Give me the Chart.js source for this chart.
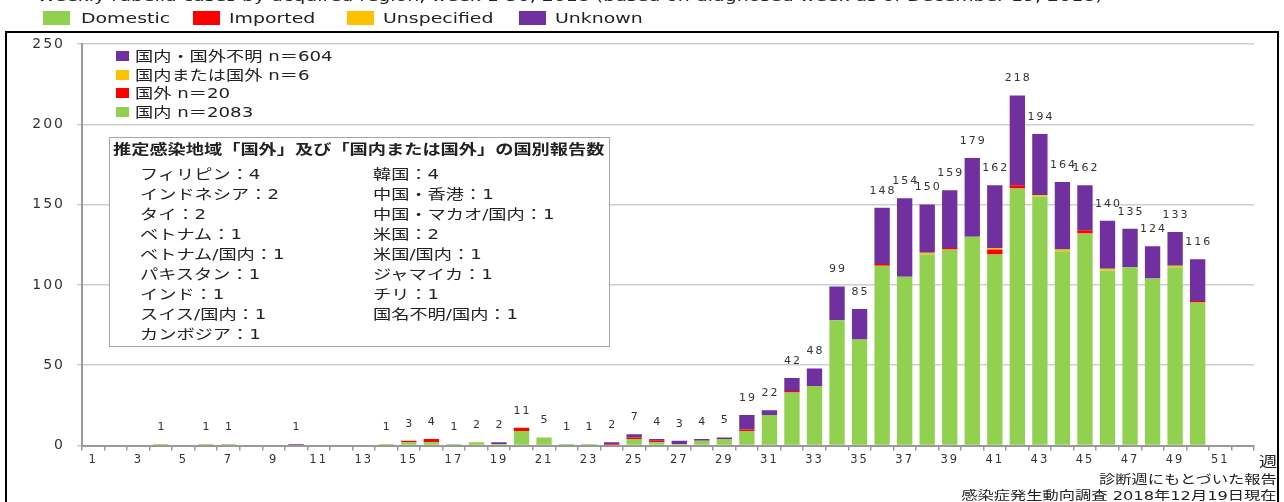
<!DOCTYPE html>
<html>
<head>
<meta charset="utf-8">
<title>Weekly rubella cases 2018</title>
<script src="https://cdn.jsdelivr.net/npm/chart.js@4.4.0/dist/chart.umd.min.js"></script>
<style>
    html, body { margin: 0; padding: 0; background: #fff; overflow: hidden; }
    #wrap { position: relative; width: 1284px; height: 502px; }
    #rubella-chart { position: absolute; left: 0; top: 0; }
    #frame { position: absolute; left: 5px; top: 31px; width: 1274px; height: 500px; border: 2px solid #000; box-sizing: border-box; }
    .txt {
        position: absolute; white-space: nowrap; color: #222;
        font-family: "DejaVu Sans", "Noto Sans CJK JP", sans-serif; font-size: 14px; line-height: 16px;
        transform-origin: left center; transform: scaleX(1.3);
    }
    .txt.right { transform-origin: right center; }
    .swatch { position: absolute; }
    #info-box { position: absolute; left: 109px; top: 137px; width: 501px; height: 210px; border: 1.5px solid #a6a6a6; box-sizing: border-box; background: #fff; }
</style>
</head>
<body>
<div id="wrap">
    <canvas id="rubella-chart" width="1284" height="502"></canvas>
    <div id="frame"></div>
    <div id="overlay"></div>
    <div id="info-box"></div>
</div>
<script>
(function() {
    'use strict';

    // Weeks on the x axis (1-52), only odd weeks get a tick label
    const weekLabels = ['1', '2', '3', '4', '5', '6', '7', '8', '9', '10', '11', '12', '13',
        '14', '15', '16', '17', '18', '19', '20', '21', '22', '23', '24', '25', '26',
        '27', '28', '29', '30', '31', '32', '33', '34', '35', '36', '37', '38', '39',
        '40', '41', '42', '43', '44', '45', '46', '47', '48', '49', '50', '51', '52'];
    const shownTicks = ['1', '3', '5', '7', '9', '11', '13', '15', '17', '19', '21', '23', '25',
        '27', '29', '31', '33', '35', '37', '39', '41', '43', '45', '47', '49', '51'];
    const yTicks = [0, 50, 100, 150, 200, 250];

    // Cases per week, weeks 1-50
    const domestic = [0, 0, 0, 1, 0, 1, 1, 0, 0, 0, 0, 0, 0, 1, 2, 2, 1, 2, 1, 9,
        5, 1, 1, 0, 4, 2, 1, 3, 4, 9, 19, 33, 37, 78, 66, 112, 105, 119, 122, 130,
        119, 160, 155, 121, 132, 109, 111, 104, 111, 89];
    const imported = [0, 0, 0, 0, 0, 0, 0, 0, 0, 0, 0, 0, 0, 0, 1, 2, 0, 0, 0, 2,
        0, 0, 0, 1, 1, 1, 0, 0, 0, 1, 0, 1, 0, 0, 0, 1, 0, 0, 1, 0,
        3, 2, 0, 0, 2, 0, 0, 0, 0, 1];
    const unspecified = [0, 0, 0, 0, 0, 0, 0, 0, 0, 0, 0, 0, 0, 0, 0, 0, 0, 0, 0, 0,
        0, 0, 0, 0, 0, 0, 0, 0, 0, 0, 0, 0, 0, 0, 0, 0, 0, 1, 0, 0,
        1, 0, 1, 1, 0, 1, 0, 0, 1, 0];
    const unknown = [0, 0, 0, 0, 0, 0, 0, 0, 0, 1, 0, 0, 0, 0, 0, 0, 0, 0, 1, 0,
        0, 0, 0, 1, 2, 1, 2, 1, 1, 9, 3, 8, 11, 21, 19, 35, 49, 30, 36, 49,
        39, 56, 38, 42, 28, 30, 24, 20, 21, 26];

    const seriesNames = ['Domestic', 'Imported', 'Unspecified', 'Unknown'];
    const seriesNamesJa = ['国内・国外不明 n＝604', '国内または国外 n＝6', '国外 n＝20', '国内 n＝2083'];
    const colors = { domestic: '#92D050', imported: '#FF0000', unspecified: '#FFC000', unknown: '#7030A0' };

    const countriesLeft = ['フィリピン：4', 'インドネシア：2', 'タイ：2', 'ベトナム：1', 'ベトナム/国内：1',
        'パキスタン：1', 'インド：1', 'スイス/国内：1', 'カンボジア：1'];
    const countriesRight = ['韓国：4', '中国・香港：1', '中国・マカオ/国内：1', '米国：2', '米国/国内：1',
        'ジャマイカ：1', 'チリ：1', '国名不明/国内：1'];

    window.RubellaChart = {
        chart: null,

        init: function() {
            this.drawOverlay();
            this.initChart();
        },

        addText: function(parent, text, x, y, opts) {
            opts = opts || {};
            const el = document.createElement('div');
            el.className = 'txt' + (opts.right ? ' right' : '');
            el.textContent = text;
            if (opts.right) {
                el.style.right = (1284 - x) + 'px';
            } else {
                el.style.left = x + 'px';
            }
            el.style.top = (y - 8) + 'px';
            if (opts.size) el.style.fontSize = opts.size + 'px';
            if (opts.bold) el.style.fontWeight = 'bold';
            if (opts.scale) el.style.transform = 'scaleX(' + opts.scale + ')';
            parent.appendChild(el);
            return el;
        },

        addSwatch: function(parent, color, x, y, w, h) {
            const el = document.createElement('div');
            el.className = 'swatch';
            el.style.cssText = 'left:' + x + 'px;top:' + y + 'px;width:' + w + 'px;height:' + h + 'px;background:' + color;
            parent.appendChild(el);
        },

        // Titles, legends, notes and the country box
        drawOverlay: function() {
            const ov = document.getElementById('overlay');

            this.addText(ov, 'Weekly rubella cases by acquired region, week 1-50, 2018 (based on diagnosed week as of December 19, 2018)', 37, -4, { scale: 1.35 });

            // English legend on top
            const top = [
                { c: colors.domestic, box: 43, text: 81 },
                { c: colors.imported, box: 193, text: 229 },
                { c: colors.unspecified, box: 347, text: 383 },
                { c: colors.unknown, box: 519, text: 555 }
            ];
            top.forEach((item, i) => {
                this.addSwatch(ov, item.c, item.box, 11, 27, 14);
                this.addText(ov, seriesNames[i], item.text, 18, { scale: 1.35 });
            });

            // Japanese legend inside the plot
            const inner = [colors.unknown, colors.unspecified, colors.imported, colors.domestic];
            const rowsY = [56, 74.5, 93, 111.5];
            inner.forEach((c, i) => {
                this.addSwatch(ov, c, 116, rowsY[i] - 5, 13, 10);
                this.addText(ov, seriesNamesJa[i], 135, rowsY[i]);
            });

            // Axis unit and source notes
            this.addText(ov, '週', 1259, 461, { size: 14 });
            this.addText(ov, '診断週にもとづいた報告', 1277, 480, { right: true, size: 12.5 });
            this.addText(ov, '感染症発生動向調査 2018年12月19日現在', 1277, 496, { right: true, size: 12.5 });

            // Country breakdown box
            const box = document.getElementById('info-box');
            this.addText(box, '推定感染地域「国外」及び「国内または国外」の国別報告数', 3, 11, { bold: true });
            countriesLeft.forEach((t, i) => this.addText(box, t, 30, 36 + i * 20));
            countriesRight.forEach((t, i) => this.addText(box, t, 263, 36 + i * 20));
        },

        initChart: function() {
            const ctx = document.getElementById('rubella-chart');

            // Total on top of each bar
            const totalsPlugin = {
                id: 'totals',
                afterDatasetsDraw: function(chart) {
                    const c = chart.ctx;
                    const yScale = chart.scales.y;
                    const meta = chart.getDatasetMeta(0);
                    c.save();
                    c.font = '11px "DejaVu Sans"';
                    c.fillStyle = '#333';
                    c.textAlign = 'center';
                    c.textBaseline = 'middle';
                    domestic.forEach((v, i) => {
                        const total = v + imported[i] + unspecified[i] + unknown[i];
                        if (!total) return;
                        const x = meta.data[i].x;
                        c.fillText(String(total), x + 1, yScale.getPixelForValue(total) - 17);
                    });
                    c.restore();
                }
            };

            // The picture's text is wide, so space out canvas glyphs
            const spacingPlugin = {
                id: 'spacing',
                beforeDraw: function(chart) {
                    chart.ctx.letterSpacing = '2px';
                }
            };

            const ds = (label, data, color) => ({
                label: label,
                data: data,
                backgroundColor: color,
                borderWidth: 0,
                barPercentage: 0.68,
                categoryPercentage: 1.0,
                stack: 'weeks'
            });

            this.chart = new Chart(ctx, {
                type: 'bar',
                data: {
                    labels: weekLabels,
                    datasets: [
                        ds(seriesNames[0], domestic, colors.domestic),
                        ds(seriesNames[1], imported, colors.imported),
                        ds(seriesNames[2], unspecified, colors.unspecified),
                        ds(seriesNames[3], unknown, colors.unknown)
                    ]
                },
                options: {
                    responsive: false,
                    animation: false,
                    layout: { padding: { left: 0, right: 30, top: 44, bottom: 0 } },
                    plugins: {
                        legend: { display: false },
                        tooltip: { enabled: false }
                    },
                    scales: {
                        x: {
                            stacked: true,
                            grid: { drawOnChartArea: false, drawTicks: true, tickLength: 5, offset: true, color: '#999', lineWidth: 1.5 },
                            border: { color: '#999', width: 2 },
                            ticks: {
                                autoSkip: false,
                                maxRotation: 0,
                                padding: 3,
                                color: '#333',
                                font: { family: 'DejaVu Sans', size: 11.5 },
                                callback: function(value, index) {
                                    const w = weekLabels[index];
                                    return shownTicks.includes(w) ? w : '';
                                }
                            },
                            afterFit: function(scale) { scale.height = 56.5; }
                        },
                        y: {
                            stacked: true,
                            min: yTicks[0],
                            max: yTicks[yTicks.length - 1],
                            afterBuildTicks: function(scale) {
                                scale.ticks = yTicks.map(v => ({ value: v }));
                            },
                            grid: { color: '#cfcfcf', lineWidth: 1.5, tickLength: 5 },
                            border: { color: '#999', width: 2 },
                            ticks: {
                                padding: 12,
                                color: '#333',
                                font: { family: 'DejaVu Sans', size: 14 }
                            },
                            afterFit: function(scale) { scale.width = 82; }
                        }
                    }
                },
                plugins: [spacingPlugin, totalsPlugin]
            });
        }
    };

    document.addEventListener('DOMContentLoaded', function() {
        RubellaChart.init();
    });
})();
</script>
</body>
</html>
